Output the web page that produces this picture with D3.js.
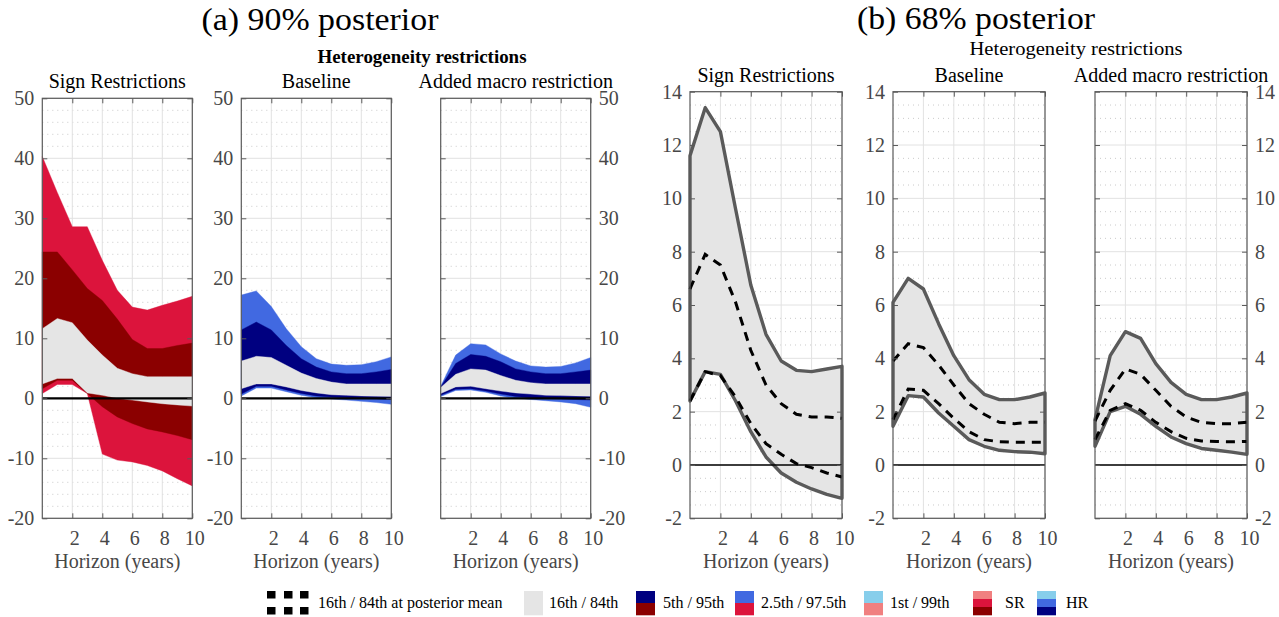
<!DOCTYPE html>
<html>
<head>
<meta charset="utf-8">
<script src="https://cdn.jsdelivr.net/npm/d3@7/dist/d3.min.js"></script>
<style>
  html, body { margin: 0; padding: 0; background: #fff; }
  svg { display: block; }
</style>
</head>
<body>
<script>
// ---------------- DATA ----------------
const horizon = [0, 1, 2, 3, 4, 5, 6, 7, 8, 9, 10];
const xTickValues = [2, 4, 6, 8, 10];

// (a) 90% posterior - percentiles
const sr90_p2_5  = [0.8, 2.3, 2.3, 0.8, -9.3, -10.3, -10.6, -11.2, -12.1, -13.4, -14.6];
const sr90_p5    = [1.6, 3.0, 3.0, 0.8, -1.4, -3.1, -4.2, -5.1, -5.6, -6.2, -6.9];
const sr90_p16   = [2.4, 3.3, 3.3, 0.9, 0.5, 0.0, -0.3, -0.6, -0.9, -1.1, -1.3];
const sr90_p84   = [11.6, 13.3, 12.6, 9.7, 7.2, 5.0, 4.1, 3.6, 3.6, 3.6, 3.6];
const sr90_p95   = [24.4, 24.4, 21.4, 18.3, 16.3, 13.2, 9.8, 8.3, 8.3, 8.8, 9.2];
const sr90_p97_5 = [40.3, 34.3, 28.6, 28.6, 23.0, 18.0, 15.2, 14.7, 15.5, 16.2, 17.0];

const hr90_p2_5  = [0.4, 1.7, 1.7, 1.1, 0.5, 0.1, -0.1, -0.3, -0.5, -0.7, -1.0];
const hr90_p5    = [0.7, 2.0, 2.0, 1.4, 0.8, 0.4, 0.2, 0.1, 0.0, -0.1, -0.2];
const hr90_p16   = [1.6, 2.4, 2.4, 1.9, 1.3, 0.9, 0.6, 0.5, 0.4, 0.35, 0.3];
const hr90_p84   = [6.2, 7.0, 6.8, 5.5, 4.2, 3.3, 2.7, 2.4, 2.4, 2.4, 2.4];
const hr90_p95   = [11.4, 12.7, 11.4, 8.8, 6.6, 5.2, 4.4, 4.1, 4.1, 4.4, 4.8];
const hr90_p97_5 = [17.2, 17.9, 15.3, 11.6, 8.6, 6.6, 5.7, 5.5, 5.6, 6.1, 6.9];

const am90_p2_5  = [0.3, 1.3, 1.4, 1.0, 0.4, 0.0, -0.2, -0.4, -0.6, -0.9, -1.5];
const am90_p5    = [0.5, 1.5, 1.6, 1.2, 0.7, 0.3, 0.1, 0.0, -0.1, -0.2, -0.3];
const am90_p16   = [0.8, 1.9, 2.0, 1.6, 1.2, 0.9, 0.7, 0.5, 0.45, 0.4, 0.35];
const am90_p84   = [1.8, 4.0, 4.9, 4.7, 3.8, 3.0, 2.6, 2.4, 2.4, 2.4, 2.4];
const am90_p95   = [1.9, 5.8, 7.3, 7.0, 6.1, 4.9, 4.4, 4.1, 4.1, 4.4, 4.7];
const am90_p97_5 = [2.0, 7.2, 9.1, 8.9, 7.4, 6.2, 5.4, 5.2, 5.3, 5.9, 6.8];

// (b) 68% posterior - 16th/84th band and 16th/84th at posterior mean
const sr68_lo  = [2.4, 3.5, 3.4, 2.4, 1.25, 0.3, -0.3, -0.65, -0.9, -1.1, -1.25];
const sr68_hi  = [11.6, 13.4, 12.5, 9.6, 6.75, 4.9, 3.9, 3.55, 3.5, 3.6, 3.7];
const sr68_mlo = [2.4, 3.5, 3.35, 2.55, 1.55, 0.8, 0.4, 0.05, -0.1, -0.3, -0.45];
const sr68_mhi = [6.6, 7.9, 7.5, 6.1, 4.3, 3.0, 2.3, 1.9, 1.8, 1.8, 1.75];

const hr68_lo  = [1.45, 2.6, 2.55, 1.95, 1.45, 0.95, 0.7, 0.55, 0.5, 0.48, 0.42];
const hr68_hi  = [6.1, 7.0, 6.6, 5.3, 4.1, 3.2, 2.65, 2.45, 2.45, 2.55, 2.7];
const hr68_mlo = [1.7, 2.85, 2.8, 2.3, 1.75, 1.25, 0.95, 0.87, 0.85, 0.85, 0.85];
const hr68_mhi = [3.9, 4.55, 4.4, 3.75, 3.0, 2.3, 1.9, 1.6, 1.55, 1.6, 1.6];

const am68_lo  = [0.7, 2.0, 2.2, 1.9, 1.45, 1.05, 0.8, 0.62, 0.55, 0.48, 0.4];
const am68_hi  = [1.7, 4.1, 5.0, 4.75, 3.8, 3.1, 2.65, 2.45, 2.45, 2.55, 2.7];
const am68_mlo = [0.95, 2.05, 2.3, 2.05, 1.6, 1.25, 1.0, 0.9, 0.88, 0.87, 0.88];
const am68_mhi = [1.65, 2.8, 3.6, 3.4, 2.8, 2.2, 1.8, 1.6, 1.55, 1.55, 1.6];

// Text
const panelTitles = ["Sign Restrictions", "Baseline", "Added macro restriction"];
const groupTitles = ["(a) 90% posterior", "(b) 68% posterior"];
const hetTitle = "Heterogeneity restrictions";
const xLabel = "Horizon (years)";
const legendLabels = ["16th / 84th at posterior mean", "16th / 84th", "5th / 95th", "2.5th / 97.5th", "1st / 99th", "SR", "HR"];

// ---------------- STYLE ----------------
const FONT = "'Liberation Serif', 'Times New Roman', serif";
const C = {
  grey: "#e5e5e5", crimson: "#dc143c", darkred: "#8b0000", navy: "#000080",
  royal: "#4169e1", sky: "#87ceeb", coral: "#f08080",
  axis: "#5a5a5a", label: "#474747", grid: "#e2e2e2", minor: "#bdbdbd",
  band68: "#5a5a5a"
};

const svg = d3.select("body").append("svg").attr("width", 1279).attr("height", 617)
  .style("font-family", FONT);

function txt(g, x, y, s, size, anchor, opts = {}) {
  const t = g.append("text").attr("x", x).attr("y", y).text(s)
    .attr("font-family", FONT)
    .attr("font-size", size).attr("text-anchor", anchor)
    .attr("fill", opts.fill || "#000");
  if (opts.weight) t.attr("font-weight", opts.weight);
  if (opts.len) t.attr("textLength", opts.len).attr("lengthAdjust", "spacingAndGlyphs");
  return t;
}

const groups = [
  { yDomain: [-20, 50], yMajor: d3.range(-20, 51, 10), minorStep: 2, top: 98.3, bottom: 518.3,
    lefts: [42.3, 241.3, 440.7], width: 150, zeroW: 2.2 },
  { yDomain: [-2, 14], yMajor: d3.range(-2, 15, 2), minorStep: 0.5, top: 91.7, bottom: 518.3,
    lefts: [690, 893, 1095], width: 152, zeroW: 1.5 }
];

const plainFmt = d => String(d);

function drawPanel(gi, pi, drawContent) {
  const G = groups[gi];
  const x0 = G.lefts[pi], x1 = x0 + G.width;
  const x = d3.scaleLinear().domain([0, 10]).range([x0, x1]);
  const y = d3.scaleLinear().domain(G.yDomain).range([G.bottom, G.top]);
  const g = svg.append("g");

  // minor grid (dotted, horizontal)
  const minors = d3.range(G.yDomain[0], G.yDomain[1] + 1e-9, G.minorStep)
    .filter(v => !G.yMajor.some(m => Math.abs(m - v) < 1e-9));
  g.selectAll(".mn").data(minors).join("line")
    .attr("x1", x0).attr("x2", x1).attr("y1", d => y(d)).attr("y2", d => y(d))
    .attr("stroke", C.minor).attr("stroke-width", 0.8).attr("stroke-dasharray", "1,4");
  // major grid
  g.selectAll(".mjy").data(G.yMajor).join("line")
    .attr("x1", x0).attr("x2", x1).attr("y1", d => y(d)).attr("y2", d => y(d))
    .attr("stroke", C.grid).attr("stroke-width", 1);
  g.selectAll(".mjx").data(xTickValues).join("line")
    .attr("x1", d => x(d)).attr("x2", d => x(d)).attr("y1", G.top).attr("y2", G.bottom)
    .attr("stroke", C.grid).attr("stroke-width", 1);

  drawContent(g, x, y);

  // zero line
  g.append("line").attr("x1", x0).attr("x2", x1).attr("y1", y(0)).attr("y2", y(0))
    .attr("stroke", "#000").attr("stroke-width", G.zeroW);

  // axes (ticks inward)
  const leftLabels = pi < 2;
  const rightLabels = pi === 2;
  const axL = g.append("g").attr("transform", `translate(${x0},0)`)
    .call(d3.axisLeft(y).tickValues(G.yMajor).tickFormat(plainFmt).tickSize(-5).tickSizeOuter(0).tickPadding(8));
  const axR = g.append("g").attr("transform", `translate(${x1},0)`)
    .call(d3.axisRight(y).tickValues(G.yMajor).tickFormat(plainFmt).tickSize(-5).tickSizeOuter(0).tickPadding(8));
  const axB = g.append("g").attr("transform", `translate(0,${G.bottom})`)
    .call(d3.axisBottom(x).tickValues(xTickValues).tickFormat(plainFmt).tickSize(-5).tickSizeOuter(0));
  const axT = g.append("g").attr("transform", `translate(0,${G.top})`)
    .call(d3.axisTop(x).tickValues(xTickValues).tickSize(-5).tickSizeOuter(0));
  [axL, axR, axB, axT].forEach(a => {
    a.select(".domain").remove();
    a.selectAll(".tick line").attr("stroke", C.axis);
    a.selectAll("text").attr("font-family", FONT).attr("font-size", 20).attr("fill", C.label);
  });
  if (!leftLabels) axL.selectAll("text").remove();
  if (!rightLabels) axR.selectAll("text").remove();
  axT.selectAll("text").remove();
  axB.selectAll("text").attr("dy", null).attr("y", 27).attr("dx", 2);
  axL.selectAll("text").attr("dy", "0.33em");
  axR.selectAll("text").attr("dy", "0.33em");

  // box
  g.append("rect").attr("x", x0).attr("y", G.top).attr("width", G.width).attr("height", G.bottom - G.top)
    .attr("fill", "none").attr("stroke", C.axis).attr("stroke-width", 1.2);

  // titles
  const cx = (x0 + x1) / 2;
  txt(g, cx, gi === 0 ? 88 : 82, panelTitles[pi], 20, "middle");
  txt(g, cx, 568, xLabel, 20, "middle", { fill: C.label });
}

function bands90(p) {
  return (g, x, y) => {
    const layers = [
      { lo: p[0], hi: p[5], col: p.outer },
      { lo: p[1], hi: p[4], col: p.mid },
      { lo: p[2], hi: p[3], col: C.grey }
    ];
    layers.forEach(L => {
      const area = d3.area().x((d, i) => x(horizon[i])).y0((d, i) => y(L.lo[i])).y1((d, i) => y(L.hi[i]));
      g.append("path").attr("d", area(horizon)).attr("fill", L.col)
        .attr("stroke", L.col).attr("stroke-width", 0.4);
    });
  };
}

function bands68(lo, hi, mlo, mhi) {
  return (g, x, y) => {
    const area = d3.area().x((d, i) => x(horizon[i])).y0((d, i) => y(lo[i])).y1((d, i) => y(hi[i]));
    g.append("path").attr("d", area(horizon)).attr("fill", C.grey)
      .attr("stroke", C.band68).attr("stroke-width", 3.4).attr("stroke-linejoin", "round");
    [mlo, mhi].forEach(arr => {
      const line = d3.line().x((d, i) => x(horizon[i])).y((d, i) => y(arr[i]));
      g.append("path").attr("d", line(horizon)).attr("fill", "none")
        .attr("stroke", "#000").attr("stroke-width", 3).attr("stroke-dasharray", "9,7");
    });
  };
}

const srSet = [sr90_p2_5, sr90_p5, sr90_p16, sr90_p84, sr90_p95, sr90_p97_5]; srSet.outer = C.crimson; srSet.mid = C.darkred;
const hrSet = [hr90_p2_5, hr90_p5, hr90_p16, hr90_p84, hr90_p95, hr90_p97_5]; hrSet.outer = C.royal; hrSet.mid = C.navy;
const amSet = [am90_p2_5, am90_p5, am90_p16, am90_p84, am90_p95, am90_p97_5]; amSet.outer = C.royal; amSet.mid = C.navy;

drawPanel(0, 0, bands90(srSet));
drawPanel(0, 1, bands90(hrSet));
drawPanel(0, 2, bands90(amSet));
drawPanel(1, 0, bands68(sr68_lo, sr68_hi, sr68_mlo, sr68_mhi));
drawPanel(1, 1, bands68(hr68_lo, hr68_hi, hr68_mlo, hr68_mhi));
drawPanel(1, 2, bands68(am68_lo, am68_hi, am68_mlo, am68_mhi));

// group titles
txt(svg, 320, 30, groupTitles[0], 31, "middle", { len: 237 });
txt(svg, 976, 29, groupTitles[1], 31, "middle", { len: 238 });
txt(svg, 422, 63, hetTitle, 19, "middle", { weight: "bold", len: 209 });
txt(svg, 1076, 55, hetTitle, 19, "middle", { len: 213 });

// ---------------- LEGEND ----------------
const lg = svg.append("g");
const ly0 = 591, lh = 24;
// dotted icon
const dotCols = [267, 284, 300], dotRows = [591, 607];
dotRows.forEach(r => dotCols.forEach(c => lg.append("rect").attr("x", c).attr("y", r).attr("width", 8.5).attr("height", 7.5).attr("fill", "#000")));
txt(lg, 318, 608, legendLabels[0], 16, "start");
// swatches
const swatches = [
  { x: 524, cols: [C.grey], tx: 549, label: legendLabels[1] },
  { x: 636, cols: [C.navy, C.darkred], tx: 663, label: legendLabels[2] },
  { x: 735, cols: [C.royal, C.crimson], tx: 761, label: legendLabels[3] },
  { x: 864, cols: [C.sky, C.coral], tx: 890, label: legendLabels[4] },
  { x: 973, cols: [C.coral, C.crimson, C.darkred], tx: 1005, label: legendLabels[5] },
  { x: 1037, cols: [C.sky, C.royal, C.navy], tx: 1066, label: legendLabels[6] }
];
swatches.forEach(s => {
  const h = lh / s.cols.length;
  s.cols.forEach((c, i) => lg.append("rect").attr("x", s.x).attr("y", ly0 + i * h)
    .attr("width", 19).attr("height", h + 0.3).attr("fill", c));
  txt(lg, s.tx, 608, s.label, 16, "start");
});
</script>
</body>
</html>
